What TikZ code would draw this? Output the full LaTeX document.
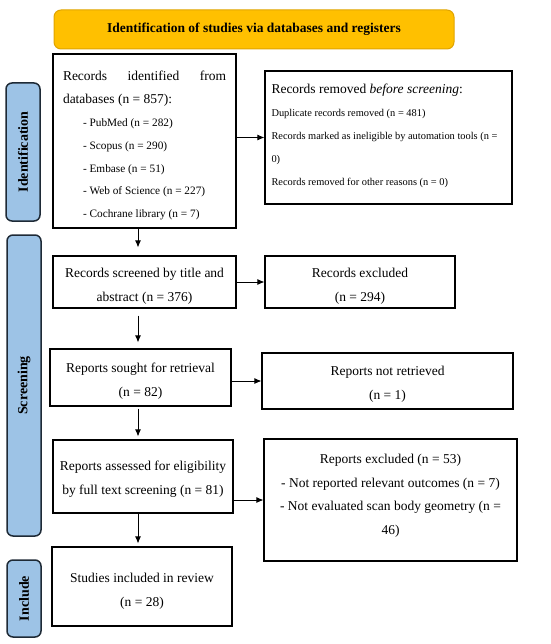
\documentclass[tikz,border=0pt]{standalone}
\usepackage{fontspec}
\setmainfont{Liberation Serif}
\usepackage{xcolor}
\usetikzlibrary{arrows.meta}
\hyphenpenalty=10000
\definecolor{headgold}{HTML}{FFC000}
\definecolor{headedge}{HTML}{E0A400}
\definecolor{sideblue}{HTML}{9DC3E6}
\definecolor{sideedge}{HTML}{1E2A36}
\newcommand{\smalltxt}{\fontsize{10.4}{23}\selectfont}
\newcommand{\itemtxt}{\fontsize{11.3}{22.8}\selectfont}

\begin{document}
\begin{tikzpicture}
    [x=1pt, y=-1pt,
 block/.style ={rectangle, draw=black, line width=1.2pt, align=center, inner sep=0pt, text height=40pt, text depth=3pt, font=\fontsize{13.5}{24}\selectfont},
 head/.style ={rectangle, draw=headedge, fill=headgold, line width=1pt, rounded corners=7pt, minimum width=400pt, minimum height=39pt, font=\fontsize{13.5}{16}\selectfont\bfseries},
 side/.style ={rectangle, draw=sideedge, fill=sideblue, line width=1.5pt, rounded corners=6pt, rotate=90, minimum height=34pt, inner sep=0pt, font=\fontsize{14}{16}\selectfont\bfseries},
 line/.style ={draw, line width=0.8pt, -{Latex[length=7pt,width=6pt]}},
 down/.style ={line, shorten >=4pt}]
    \useasboundingbox (0,0) rectangle (550,644);
        \node[head] (head) at (254,29.5) {Identification of studies via databases and registers};
        \node[side, minimum width=138pt] (ident) at (23,152) {Identification};
        \node[side, minimum width=301pt] (screen) at (24,385.5) {Screening};
        \node[side, minimum width=77pt] (incl) at (24,598.5) {Include};
        \node[block, minimum width=183pt, minimum height=174pt, text width=163pt, align=justify, text height=10pt, text depth=130pt, font=\fontsize{13.5}{22.8}\selectfont] (rec) at (144.5,141) {Records identified from databases (n = 857):\\
          \itemtxt\hspace*{20pt}- PubMed (n = 282)\\
          \hspace*{20pt}- Scopus (n = 290)\\
          \hspace*{20pt}- Embase (n = 51)\\
          \hspace*{20pt}- Web of Science (n = 227)\\
          \hspace*{20pt}- Cochrane library (n = 7)};
        \node[block, minimum width=247pt, minimum height=133pt, text width=234pt, align=flush left, text height=10pt, text depth=97pt, font=\fontsize{13.5}{23}\selectfont] (rem) at (388.5,137.5) {Records removed \textit{before screening}:\\
          \smalltxt Duplicate records removed (n = 481)\\
          Records marked as ineligible by automation tools (n~=\\
          0)\\
          Records removed for other reasons (n = 0)};
        \node[block, minimum width=183pt, minimum height=52pt, text height=42pt] (scr) at (144.5,282) {Records screened by title and\\abstract (n = 376)};
        \node[block, minimum width=190pt, minimum height=52pt, text height=42pt] (exc1) at (360,282) {Records excluded\\(n = 294)};
        \node[block, minimum width=181pt, minimum height=57pt] (sou) at (140.5,377.5) {Reports sought for retrieval\\(n = 82)};
        \node[block, minimum width=251pt, minimum height=56pt] (nret) at (387.5,381) {Reports not retrieved\\(n = 1)};
        \node[block, minimum width=180pt, minimum height=73pt, text height=38pt] (ass) at (143,476.5) {Reports assessed for eligibility\\by full text screening (n = 81)};
        \node[block, minimum width=253pt, minimum height=122pt, text height=71pt, font=\fontsize{13.5}{23.5}\selectfont] (exc2) at (390.5,500) {Reports excluded (n = 53)\\- Not reported relevant outcomes (n = 7)\\- Not evaluated scan body geometry (n =\\46)};
        \node[block, minimum width=180pt, minimum height=79pt, text height=43pt] (inc) at (142,586.5) {Studies included in review\\(n = 28)};
        \coordinate (axis) at (138,0);
         \draw[line] (rem.west -| rec.east) -- (rem.west);
         \draw[down, shorten >=8pt] (rec.south -| axis) -- (scr.north -| axis);
         \draw[line] (scr) -- (exc1);
         \draw[down, shorten <=7pt, shorten >=6pt] (scr.south -| axis) -- (sou.north -| axis);
         \draw[line] (nret.west -| sou.east) -- (nret.west);
         \draw[down, shorten <=2pt, shorten >=3pt] (sou.south -| axis) -- (ass.north -| axis);
         \draw[line] (exc2.west -| ass.east) -- (exc2.west);
         \draw[down, shorten >=3pt] (ass.south -| axis) -- (inc.north -| axis);
    \end{tikzpicture}
\end{document}
